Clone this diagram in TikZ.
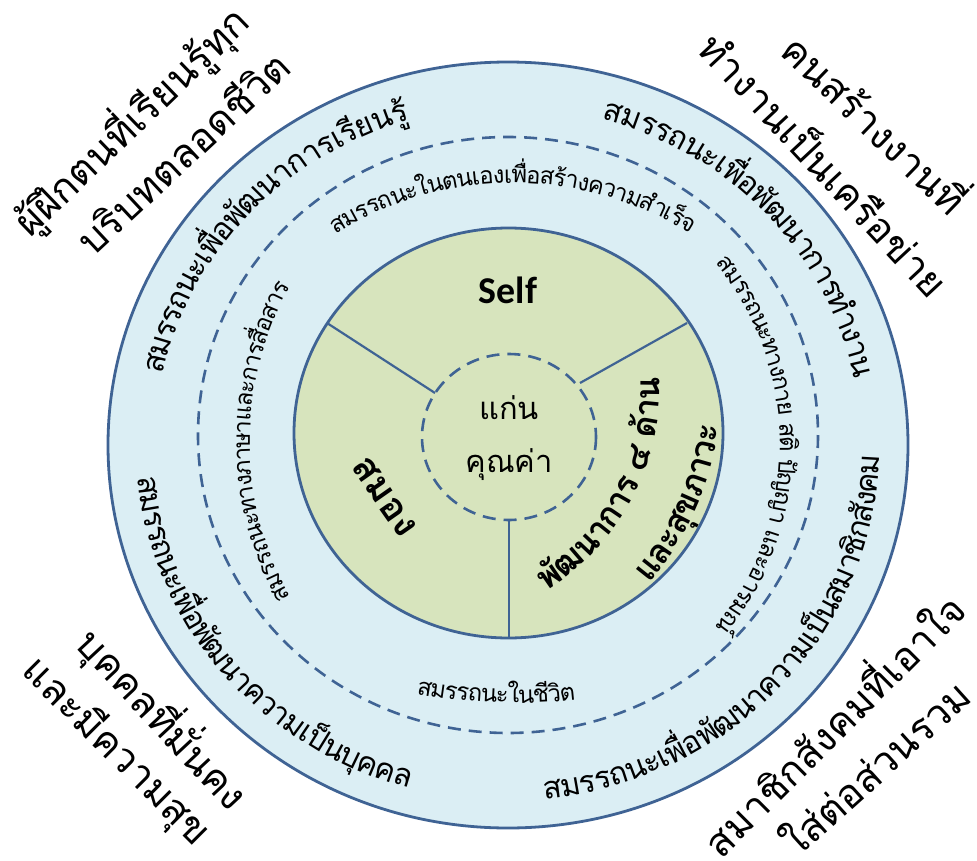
\documentclass[tikz,border=0pt]{standalone}
\usepackage{fontspec}
\setmainfont{Carlito}
\newfontfamily\thai[Script=Thai]{Loma}
\definecolor{lineblue}{HTML}{3F6394}
\definecolor{ringblue}{HTML}{DBEEF4}
\definecolor{coregreen}{HTML}{D7E4BD}
\newdimen\atw
\newcount\atcnt
\newbox\atbox
\def\attrack{1}
% #1 cx, #2 cy, #3 x-stretch, #4 baseline radius, #5 middle angle, #6 +1 ccw / -1 cw, #7 font, #8 clusters
\newcommand\arctext[8]{%
  \global\advance\atcnt by 1
  \global\atw=0pt
  \foreach \atc [count=\i] in {#8}{%
    \node[inner sep=0pt, font={#7}] (m\the\atcnt-\i) at (0,0) {\setbox\atbox=\hbox{\atc}\global\advance\atw by \wd\atbox\expandafter\xdef\csname atw\the\atcnt-\i\endcsname{\the\wd\atbox}};
  }%
  \edef\atwt{\the\atw}%
  \pgfmathsetmacro\atspan{\attrack*(\atwt/(#4*1.00375))*57.29578}%
  \pgfmathsetmacro\atcurr{#5-#6*\atspan/2}%
  \xdef\atcur{\atcurr}%
  \foreach \atc [count=\i] in {#8}{%
    \edef\atwd{\csname atw\the\atcnt-\i\endcsname}%
    \pgfmathsetmacro\atd{\attrack*(\atwd/(#4*1.00375))*57.29578}%
    \pgfmathsetmacro\atm{\atcur+#6*\atd/2}%
    \pgfmathsetmacro\atx{#1+#3*#4*cos(\atm)}%
    \pgfmathsetmacro\aty{#2-#4*sin(\atm)}%
    \pgfmathsetmacro\atr{\atm+#6*90}%
    \node[arcglyph, font={#7}, rotate=\atr] (at\the\atcnt-\i) at (\atx,\aty) {\atc};
    \pgfmathsetmacro\atn{\atcur+#6*\atd}%
    \xdef\atcur{\atn}%
  }%
}
\usetikzlibrary{calc}
\begin{document}
\begin{tikzpicture}[x=1bp,y=-1bp,
  ring/.style={line width=2.8bp, draw=lineblue},
  dashring/.style={line width=2.6bp, draw=lineblue, dash pattern=on 13bp off 8bp},
  sepline/.style={line width=2.2bp, draw=lineblue},
  arcglyph/.style={inner sep=0pt, outer sep=0pt, anchor=base},
  corner/.style={font=\thai\fontsize{40}{44}\selectfont, inner sep=0pt},
  core/.style={font=\thai\fontsize{31}{34}\selectfont, inner sep=0pt}]
\useasboundingbox (0,0) rectangle (977,861);
\fill[white] (0,0) rectangle (977,861);
% rings
\filldraw[ring, fill=ringblue] (508,445) ellipse [x radius=400, y radius=383];
\draw[dashring] (508,435) ellipse [x radius=310, y radius=298];
\filldraw[ring, fill=coregreen] (508.5,433) ellipse [x radius=214.5, y radius=205];
\draw[dashring] (509,437) ellipse [x radius=87, y radius=83];
% separators
\coordinate (ul1) at (435,393); \coordinate (ul2) at (327,323);
\coordinate (ur1) at (580,383); \coordinate (ur2) at (687,323);
\coordinate (dn1) at (509,520); \coordinate (dn2) at (509,638);
\draw[sepline] (ul1) -- (ul2);
\draw[sepline] (ur1) -- (ur2);
\draw[sepline] (dn1) -- (dn2);
% core texts
\node[font=\bfseries\fontsize{38}{40}\selectfont, inner sep=0pt] (self) at (508,290) {Self};
\node[core] (kaen) at (509,408) {แก่น};
\node[core] (khun) at (509,465) {คุณค่า};
\node[font=\thai\bfseries\fontsize{38}{40}\selectfont, rotate=-55, inner sep=0pt] (samong) at (385,497) {สมอง};
\def\attrack{0.95}
\arctext{418}{386}{1}{242}{-28}{1}{\thai\bfseries\fontsize{34}{38}\selectfont}{พั,ฒ,น,า,ก,า,ร,\ ,๔,\ ,ด้,า,น}
\arctext{418}{386}{1}{304}{-24}{1}{\thai\bfseries\fontsize{34}{38}\selectfont}{แ,ล,ะ,สุ,ข,ภ,า,ว,ะ}
% outer ring texts
\def\attrack{0.91}
\arctext{508}{445}{1.045}{338}{137}{-1}{\thai\fontsize{31}{34}\selectfont}{ส,ม,ร,ร,ถ,น,ะ,เ,พื่,อ,พั,ฒ,น,า,ก,า,ร,เ,รี,ย,น,รู้}
\arctext{508}{445}{1.045}{338}{43}{-1}{\thai\fontsize{31}{34}\selectfont}{ส,ม,ร,ร,ถ,น,ะ,เ,พื่,อ,พั,ฒ,น,า,ก,า,ร,ทำ,ง,า,น}
\arctext{508}{445}{1.045}{356}{-43}{1}{\thai\fontsize{31}{34}\selectfont}{ส,ม,ร,ร,ถ,น,ะ,เ,พื่,อ,พั,ฒ,น,า,ค,ว,า,ม,เ,ป็,น,ส,ม,า,ชิ,ก,สั,ง,ค,ม}
\arctext{508}{445}{1.045}{356}{220}{1}{\thai\fontsize{31}{34}\selectfont}{ส,ม,ร,ร,ถ,น,ะ,เ,พื่,อ,พั,ฒ,น,า,ค,ว,า,ม,เ,ป็,น,บุ,ค,ค,ล}
% inner ring texts
\def\attrack{0.92}
\arctext{513}{518}{1}{335}{90}{-1}{\thai\fontsize{24}{28}\selectfont}{ส,ม,ร,ร,ถ,น,ะ,ใ,น,ต,น,เ,อ,ง,เ,พื่,อ,ส,ร้,า,ง,ค,ว,า,ม,สำ,เ,ร็,จ}
\arctext{570}{442}{1}{320}{180}{-1}{\thai\fontsize{24}{28}\selectfont}{ส,ม,ร,ร,ถ,น,ะ,ท,า,ง,ภ,า,ษ,า,แ,ล,ะ,ก,า,ร,สื่,อ,ส,า,ร}
\arctext{490}{445}{1}{290}{0}{-1}{\thai\fontsize{24}{28}\selectfont}{ส,ม,ร,ร,ถ,น,ะ,ท,า,ง,ก,า,ย,\ ,ส,ติ,\ ,ปั,ญ,ญ,า,\ ,แ,ล,ะ,อ,า,ร,ม,ณ์}
\arctext{515}{155}{1}{548}{268}{1}{\thai\fontsize{24}{28}\selectfont}{ส,ม,ร,ร,ถ,น,ะ,ใ,น,ชี,วิ,ต}
% corner texts
\node[corner, rotate=44] (tl1) at (131,121) {ผู้ฝึกตนที่เรียนรู้ทุก};
\node[corner, rotate=43] (tl2) at (182,152) {บริบทตลอดชีวิต};
\node[corner, rotate=-44] (tr1) at (878,121) {คนสร้างงานที่};
\node[corner, rotate=-47] (tr2) at (826,163) {ทำงานเป็นเครือข่าย};
\node[corner, rotate=-47] (bl1) at (163,719) {บุคคลที่มั่นคง};
\node[corner, rotate=-45] (bl2) at (116,752) {และมีความสุข};
\node[corner, rotate=45] (br1) at (831,722) {สมาชิกสังคมที่เอาใจ};
\node[corner, rotate=42] (br2) at (874,766) {ใส่ต่อส่วนรวม};
\end{tikzpicture}
\end{document}
